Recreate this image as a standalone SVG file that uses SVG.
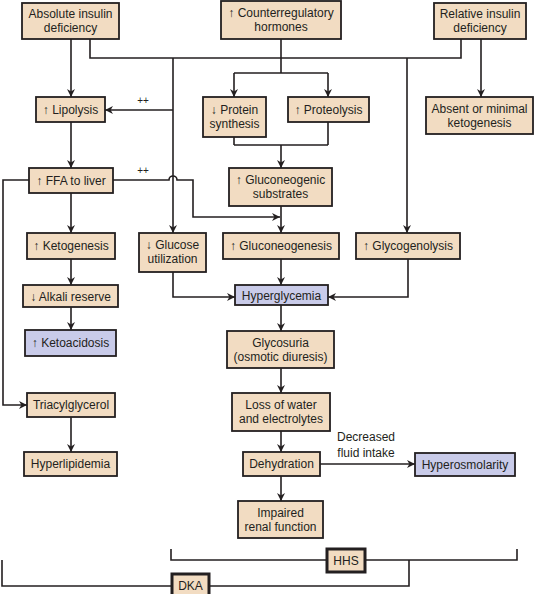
<svg xmlns="http://www.w3.org/2000/svg" width="536" height="594" viewBox="0 0 536 594">
<style>
.b{fill:#f2dcc2;stroke:#231f20;stroke-width:1.8}
.u{fill:#c9cbe9;stroke:#231f20;stroke-width:1.8}
.k{fill:#f2dcc2;stroke:#231f20;stroke-width:3}
text{font-family:"Liberation Sans",Arial,sans-serif;font-size:12px;fill:#231f20;text-anchor:middle}
.c path{fill:none;stroke:#231f20;stroke-width:1.6}
.a{marker-end:url(#ah)}
</style>
<defs>
<marker id="ah" viewBox="0 0 10 10" refX="10" refY="5" markerWidth="10" markerHeight="8" markerUnits="userSpaceOnUse" orient="auto">
<path d="M0,0 L10,5 L0,10 L3,5 z" fill="#231f20"/>
</marker>
</defs>
<rect width="536" height="594" fill="#fff"/>
<g class="c">
<path class="a" d="M71,39 V97"/>
<path d="M90,39 V58 H461 V39"/>
<path d="M281,39 V73 M234,73 H328"/>
<path class="a" d="M234,73 V97"/>
<path class="a" d="M328,73 V97"/>
<path class="a" d="M173,58 V233"/>
<path class="a" d="M173,110 H105"/>
<path class="a" d="M407,58 V233"/>
<path class="a" d="M481,39 V97"/>
<path d="M234,137 V145 M328,122 V145 M234,145 H328"/>
<path class="a" d="M281,145 V168"/>
<path class="a" d="M71,122 V168"/>
<path class="a" d="M113,180 H169 a4,4 0 0 1 8,0 H193 V217 H280"/>
<path class="a" d="M29,180 H3 V405 H27"/>
<path class="a" d="M71,193 V233"/>
<path class="a" d="M281,206 V233"/>
<path class="a" d="M71,259 V285"/>
<path class="a" d="M71,307 V330"/>
<path class="a" d="M173,272 V297 H235"/>
<path class="a" d="M408,259 V297 H328"/>
<path class="a" d="M281,259 V285"/>
<path class="a" d="M281,305 V331"/>
<path class="a" d="M281,368 V393"/>
<path class="a" d="M71,417 V452"/>
<path class="a" d="M281,431 V452"/>
<path class="a" d="M320,464 H415"/>
<path class="a" d="M281,476 V501"/>
<path d="M171,549 V560 H327 M365,560 H517 V549 M409,560 V586 H209 M172,586 H2 V560"/>
</g>
<text x="143" y="104" style="font-size:10px">++</text>
<text x="143" y="174" style="font-size:10px">++</text>
<text x="366" y="441">Decreased</text>
<text x="366" y="457">fluid intake</text>
<g id="abs"><rect class="b" x="22" y="3" width="97" height="36"/><text x="70.5" y="18">Absolute insulin</text><text x="70.5" y="32">deficiency</text></g>
<g id="counter"><rect class="b" x="221" y="1" width="120" height="38"/><text x="281" y="17">↑ Counterregulatory</text><text x="281" y="31">hormones</text></g>
<g id="rel"><rect class="b" x="434" y="3" width="92" height="36"/><text x="480" y="18">Relative insulin</text><text x="480" y="32">deficiency</text></g>
<g id="lipolysis"><rect class="b" x="36" y="97" width="69" height="25"/><text x="70.5" y="114">↑ Lipolysis</text></g>
<g id="protsyn"><rect class="b" x="203" y="97" width="63" height="40"/><text x="234.5" y="114">↓ Protein</text><text x="234.5" y="128">synthesis</text></g>
<g id="proteolysis"><rect class="b" x="288" y="97" width="81" height="25"/><text x="328.5" y="114">↑ Proteolysis</text></g>
<g id="absent"><rect class="b" x="426" y="97" width="107" height="37"/><text x="479.5" y="113">Absent or minimal</text><text x="479.5" y="127">ketogenesis</text></g>
<g id="ffa"><rect class="b" x="29" y="168" width="84" height="25"/><text x="71" y="185">↑ FFA to liver</text></g>
<g id="gsub"><rect class="b" x="229" y="168" width="103" height="38"/><text x="280.5" y="184">↑ Gluconeogenic</text><text x="280.5" y="198">substrates</text></g>
<g id="keto"><rect class="b" x="27" y="233" width="88" height="26"/><text x="71" y="250">↑ Ketogenesis</text></g>
<g id="gluutil"><rect class="b" x="139" y="233" width="67" height="39"/><text x="172.5" y="249">↓ Glucose</text><text x="172.5" y="263">utilization</text></g>
<g id="gneo"><rect class="b" x="223" y="233" width="116" height="26"/><text x="281" y="250">↑ Gluconeogenesis</text></g>
<g id="glyco"><rect class="b" x="356" y="233" width="104" height="26"/><text x="408" y="250">↑ Glycogenolysis</text></g>
<g id="alkali"><rect class="b" x="23" y="285" width="95" height="22"/><text x="70.5" y="300.5">↓ Alkali reserve</text></g>
<g id="hyperg"><rect class="u" x="235" y="285" width="93" height="20"/><text x="281.5" y="299.5">Hyperglycemia</text></g>
<g id="ketoacid"><rect class="u" x="25" y="330" width="91" height="26"/><text x="70.5" y="347">↑ Ketoacidosis</text></g>
<g id="glycos"><rect class="b" x="227" y="331" width="107" height="37"/><text x="280.5" y="347">Glycosuria</text><text x="280.5" y="361">(osmotic diuresis)</text></g>
<g id="triacyl"><rect class="b" x="27" y="393" width="88" height="24"/><text x="71" y="409">Triacylglycerol</text></g>
<g id="loss"><rect class="b" x="232" y="393" width="98" height="38"/><text x="281" y="409">Loss of water</text><text x="281" y="423">and electrolytes</text></g>
<g id="hyperlip"><rect class="b" x="24" y="452" width="93" height="24"/><text x="70.5" y="468">Hyperlipidemia</text></g>
<g id="dehyd"><rect class="b" x="243" y="452" width="77" height="24"/><text x="281.5" y="468">Dehydration</text></g>
<g id="hyperosm"><rect class="u" x="415" y="453" width="100" height="23"/><text x="465" y="469">Hyperosmolarity</text></g>
<g id="impaired"><rect class="b" x="238" y="501" width="85" height="37"/><text x="280.5" y="517">Impaired</text><text x="280.5" y="531">renal function</text></g>
<g id="hhs"><rect class="k" x="327" y="549" width="38" height="23"/><text x="346" y="565">HHS</text></g>
<g id="dka"><rect class="k" x="172" y="574" width="37" height="23"/><text x="190.5" y="590">DKA</text></g>
</svg>
